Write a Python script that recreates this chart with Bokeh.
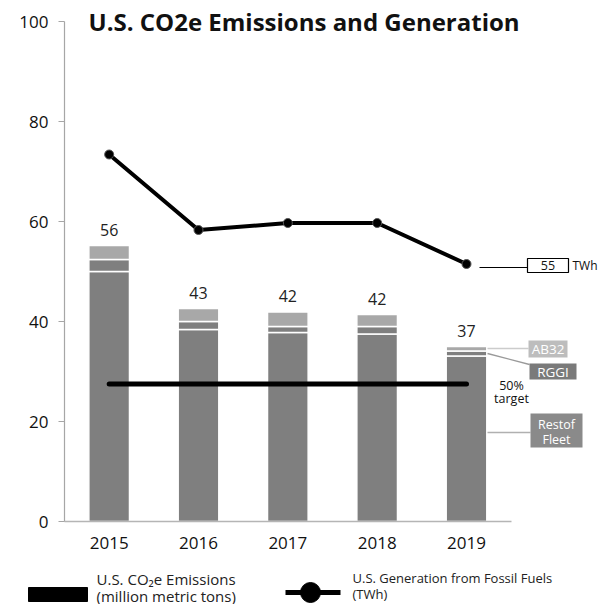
from bokeh.plotting import figure
from bokeh.models import Range1d, FixedTicker, ColumnDataSource
from bokeh.core.properties import value
from bokeh.embed import file_html
from bokeh.resources import INLINE

# ---------------- data ----------------
years = ["2015", "2016", "2017", "2018", "2019"]
rest_of_fleet = [50.0, 38.4, 37.8, 37.5, 33.1]
rggi = [2.4, 1.6, 1.2, 1.5, 1.0]
ab32 = [2.8, 2.6, 2.9, 2.4, 0.9]
total_labels = ["56", "43", "42", "42", "37"]
fossil_twh = [73.4, 58.3, 59.7, 59.7, 51.5]
target_value = 27.5
target_twh_label = "55"
y_ticks = [0, 20, 40, 60, 80, 100]

FONT = value("Open Sans")
TXT = "#222222"
DARK = "#7f7f7f"
LIGHT = "#a8a8a8"

xs = list(range(len(years)))
totals = [r + g + a for r, g, a in zip(rest_of_fleet, rggi, ab32)]

# pixel helpers for annotation placement (layout only)
W, H = 600, 604
PXX = 536 / 6.0          # px per category
PXY = 5.0                # px per value unit
def dx(px):
    return -0.5 + (px - 64) / PXX
def dy(py):
    return (521 - py) / PXY

p = figure(width=W, height=H, output_backend="svg", toolbar_location=None,
           x_range=Range1d(dx(0), dx(W)), y_range=Range1d(dy(H), dy(0)),
           min_border=0, min_border_left=0, min_border_right=0,
           min_border_top=0, min_border_bottom=0)
p.outline_line_color = None
p.grid.visible = False
p.background_fill_color = "white"

# axes (drawn at fixed locations inside the frame)
xa = p.xaxis[0]
xa.fixed_location = 0
xa.ticker = FixedTicker(ticks=xs)
xa.major_label_overrides = {i: y for i, y in zip(xs, years)}
xa.bounds = (-0.5, 4.5)
xa.axis_line_color = "#b5b5b5"
xa.axis_line_width = 1.5
xa.major_tick_line_color = None
xa.minor_tick_line_color = None
xa.major_tick_out = 0
xa.major_tick_in = 0
xa.major_label_standoff = 15
xa.major_label_text_font = "Open Sans"
xa.major_label_text_font_size = "17px"
xa.major_label_text_color = "#111111"

ya = p.yaxis[0]
ya.fixed_location = -0.5
ya.ticker = FixedTicker(ticks=y_ticks)
ya.bounds = (0, 100)
ya.axis_line_color = "#a6a6a6"
ya.axis_line_width = 1.2
ya.major_tick_line_color = "#a6a6a6"
ya.major_tick_out = 6
ya.major_tick_in = 0
ya.minor_tick_line_color = None
ya.major_label_standoff = 10
ya.major_label_text_font = "Open Sans"
ya.major_label_text_font_size = "17px"
ya.major_label_text_color = "#111111"

# stacked bars
src = ColumnDataSource(dict(x=xs, rest=rest_of_fleet, rggi=rggi, ab32=ab32))
p.vbar_stack(["rest", "rggi", "ab32"], x="x", width=0.455, source=src,
             fill_color=[DARK, DARK, LIGHT], line_color="white", line_width=1.5)

# total labels
p.text(x=xs, y=[t + 3.2 for t in totals], text=total_labels, text_align="center",
       text_baseline="middle", text_font=FONT, text_font_size=value("16px"),
       text_color=TXT)

# 50% target line
p.line([xs[0], xs[-1]], [target_value, target_value], line_width=5,
       line_color="black", line_cap="round")

# fossil generation line
p.line(xs, fossil_twh, line_width=4, line_color="black", line_join="round")
p.scatter(xs, fossil_twh, size=9, fill_color="black", line_color="#555555",
          line_width=1)

# title
p.text(x=[dx(88)], y=[dy(21)], text=["U.S. CO2e Emissions and Generation"],
       text_align="left", text_baseline="alphabetic", text_font=FONT,
       text_font_style="bold", text_font_size=value("24px"), text_color="#111111")

# 55 TWh callout
p.segment(x0=[dx(479)], y0=[dy(267)], x1=[dx(527)], y1=[dy(267)],
          line_color="black", line_width=1)
p.quad(left=[dx(527)], right=[dx(568)], top=[dy(258)], bottom=[dy(272)],
       fill_color="white", line_color="black", line_width=1.2)
p.text(x=[dx(547.5)], y=[dy(265)], text=[target_twh_label], text_align="center",
       text_baseline="middle", text_font=FONT, text_font_size=value("12.5px"),
       text_color="#111111")
p.text(x=[dx(572)], y=[dy(265)], text=["TWh"], text_align="left",
       text_baseline="middle", text_font=FONT, text_font_size=value("12px"),
       text_color="#111111")

# segment callouts for 2019 bar
p.segment(x0=[dx(487), dx(487), dx(487)], y0=[dy(348), dy(353), dy(432)],
          x1=[dx(528), dx(529), dx(530)], y1=[dy(348), dy(364), dy(432)],
          line_color=["#cccccc", "#9a9a9a", "#b0b0b0"], line_width=1.3)
p.quad(left=[dx(528), dx(529), dx(530)], right=[dx(567), dx(576), dx(582)],
       top=[dy(340), dy(363), dy(413)], bottom=[dy(357), dy(379), dy(447)],
       fill_color=["#bdbdbd", "#7a7a7a", "#8a8a8a"], line_color=None)
p.text(x=[dx(547.5), dx(552.5)], y=[dy(348.5), dy(371)],
       text=["AB32", "RGGI"], text_align="center",
       text_baseline="middle", text_font=FONT, text_font_size=value("13.5px"),
       text_color="white")
p.text(x=[dx(556), dx(556)], y=[dy(423.5), dy(439)],
       text=["Restof", "Fleet"], text_align="center",
       text_baseline="middle", text_font=FONT, text_font_size=value("12.5px"),
       text_color="white")
p.text(x=[dx(511), dx(511)], y=[dy(385), dy(398)], text=["50%", "target"],
       text_align="center", text_baseline="middle", text_font=FONT,
       text_font_size=value("12.5px"), text_color="#111111")

# ---------------- legend ----------------
p.quad(left=[dx(28)], right=[dx(87)], top=[dy(587)], bottom=[dy(601)],
       fill_color="black", line_color="black", line_join="round", line_width=1)
p.text(x=[dx(96), dx(96)], y=[dy(578), dy(595)],
       text=["U.S. CO\u2082e Emissions", "(million metric tons)"],
       text_align="left", text_baseline="middle", text_font=FONT,
       text_font_size=value("15px"), text_color=TXT)
p.line([dx(285), dx(340)], [dy(592), dy(592)], line_width=5, line_color="black")
p.scatter([dx(310)], [dy(592)], size=20, fill_color="black", line_color="black")
p.text(x=[dx(352), dx(352)], y=[dy(577), dy(593)],
       text=["U.S. Generation from Fossil Fuels", "(TWh)"],
       text_align="left", text_baseline="middle", text_font=FONT,
       text_font_size=value("13px"), text_color=TXT)

open("out.html", "w").write(file_html(p, INLINE))
